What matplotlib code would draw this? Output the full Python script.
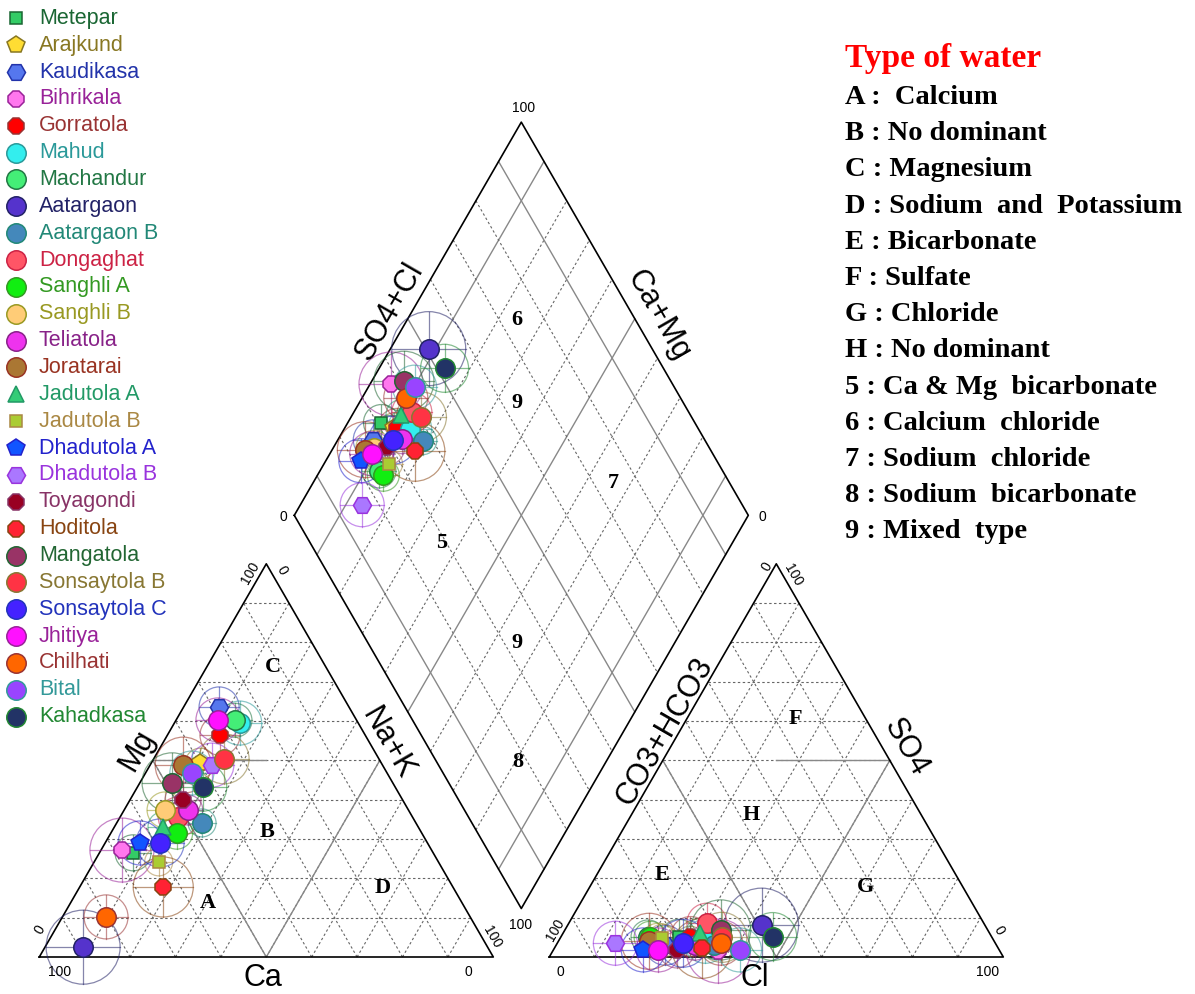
import numpy as np
import matplotlib.pyplot as plt
from matplotlib.patches import Circle

# Piper diagram of groundwater samples (% meq/L)
sites = ["Metepar", "Arajkund", "Kaudikasa", "Bihrikala", "Gorratola", "Mahud",
         "Machandur", "Aatargaon", "Aatargaon B", "Dongaghat", "Sanghli A",
         "Sanghli B", "Teliatola", "Joratarai", "Jadutola A", "Jadutola B",
         "Dhadutola A", "Dhadutola B", "Toyagondi", "Hoditola", "Mangatola",
         "Sonsaytola B", "Sonsaytola C", "Jhitiya", "Chilhati", "Bital", "Kahadkasa"]

ca = [66.1, 39.9, 28.6, 68.2, 32.0, 26.1, 26.8, 89.1, 47.1, 51.6, 54.0, 53.6, 48.6, 43.9,
      56.2, 61.6, 63.3, 37.6, 48.4, 63.8, 48.6, 34.1, 58.9, 30.5, 80.2, 43.0, 42.4]
mg = [26.5, 49.3, 63.6, 27.2, 56.4, 59.5, 60.2, 2.5, 34.1, 35.6, 31.5, 37.4, 37.4, 48.8,
      33.1, 24.2, 29.0, 48.8, 39.9, 17.8, 44.3, 50.4, 29.0, 60.3, 10.2, 46.8, 43.2]
nak = [7.4, 10.8, 7.8, 4.6, 11.6, 14.4, 13.0, 8.4, 18.8, 12.8, 14.5, 9.0, 14.0, 7.3,
       10.7, 14.2, 7.7, 13.6, 11.7, 18.4, 7.1, 15.5, 12.1, 9.2, 9.6, 10.2, 14.4]

hco3 = [69.0, 67.0, 73.0, 62.0, 66.3, 63.6, 75.7, 49.2, 62.2, 61.0, 75.3, 74.0, 66.5, 76.0,
        63.7, 72.7, 78.4, 83.7, 71.0, 65.3, 58.8, 59.5, 68.8, 75.1, 60.5, 57.2, 48.2]
so4 = [5.0, 4.0, 3.0, 1.5, 5.2, 4.0, 5.1, 8.1, 3.0, 8.6, 5.0, 4.0, 3.0, 4.0,
       6.0, 4.8, 1.8, 3.5, 1.8, 2.2, 6.9, 5.0, 3.5, 1.8, 3.5, 1.8, 5.2]
cl = [26.0, 29.0, 24.0, 36.5, 28.5, 32.4, 19.2, 42.7, 34.8, 30.4, 19.7, 22.0, 30.5, 20.0,
      30.3, 22.5, 19.8, 12.8, 27.2, 32.5, 34.3, 35.5, 27.7, 23.1, 36.0, 41.0, 46.6]

# symbol styles
markers = ['s', 'p', 'H', '8', '8', 'o', 'o', 'o', 'o', 'o', 'o', 'o', 'o', 'o',
           '^', 's', 'p', 'H', '8', '8', 'o', 'o', 'o', 'o', 'o', 'o', 'o']
fills = ['#33cc66', '#ffdd33', '#5577ee', '#ff77ee', '#ff0000', '#33eeee', '#44ee77',
         '#5533cc', '#4488bb', '#ff5566', '#11ee11', '#ffcc77', '#ee33ee', '#aa7733',
         '#33cc77', '#aacc33', '#1155ff', '#aa77ff', '#990022', '#ff2233', '#993366',
         '#ff3344', '#4422ff', '#ff11ff', '#ff6600', '#9944ff', '#223366']
edges = ['#1a6633', '#887722', '#2233aa', '#992299', '#993333', '#2a9999', '#227744',
         '#222266', '#228877', '#cc2244', '#339922', '#999922', '#882288', '#993322',
         '#229966', '#aa8844', '#2222cc', '#9933dd', '#883366', '#884411', '#226633',
         '#887733', '#2233bb', '#992299', '#993333', '#339999', '#228833']
ring_px = [18, 15, 20, 32, 20, 22, 17, 37, 14, 20, 16, 18, 15, 28,
           15, 14, 22, 22, 18, 30, 30, 25, 24, 22, 22, 22, 24]

# layout: pixel -> data units (triangle side = 1)
X0, Y0, S = 39.3, 957.0, 454.0
H = np.sqrt(3) / 2
GAP = 56.0 / S


def P(x, y):
    return (x - X0) / S, (Y0 - y) / S


fig = plt.figure(figsize=(11.95, 9.94), dpi=100)
ax = fig.add_axes([0, 0, 1, 1])
ax.set_xlim(-X0 / S, (1195 - X0) / S)
ax.set_ylim((Y0 - 994) / S, Y0 / S)
ax.axis('off')

SANS = 'Liberation Sans'
SERIF = 'Liberation Serif'
grid_kw = dict(color='#666666', lw=0.8, ls=(0, (2.2, 2.2)), zorder=1)
solid_kw = dict(color='#888888', lw=1.0, zorder=1)


def tri(right, top, ox=0.0):
    return ox + right + 0.5 * top, top * H


def draw_triangle(ox):
    for i in range(1, 10):
        f = i / 10
        ax.plot([ox + 0.5 * f, ox + 1 - 0.5 * f], [f * H, f * H], **grid_kw)
        ax.plot([ox + f, ox + f + 0.5 * (1 - f)], [0, (1 - f) * H], **grid_kw)
        ax.plot([ox + 1 - f, ox + 0.5 * (1 - f)], [0, (1 - f) * H], **grid_kw)
    ax.plot([ox, ox + 1, ox + 0.5, ox], [0, 0, H, 0], color='black', lw=1.2, zorder=2)


draw_triangle(0.0)
draw_triangle(1 + GAP)

# subdivision lines
ax.plot([0.25, 0.5, 0.75], [0.5 * H, 0, 0.5 * H], **solid_kw)
ax.plot([0.25, 0.5], [0.5 * H, 0.5 * H], **solid_kw)
ox = 1 + GAP
ax.plot([ox + 0.25, ox + 0.5, ox + 0.75], [0.5 * H, 0, 0.5 * H], **solid_kw)
ax.plot([ox + 0.5, ox + 0.75], [0.5 * H, 0.5 * H], **solid_kw)

# diamond
Bx, By = 1 + GAP / 2, GAP * H
Lx, Ly = Bx - 0.5, By + H


def dia(n, s):
    return Lx + 0.5 * (n + s), Ly + H * (s - n)


for i in range(1, 10):
    f = i / 10
    kw = solid_kw if i in (1, 5, 9) else grid_kw
    a, b = dia(0, f), dia(1, f)
    ax.plot([a[0], b[0]], [a[1], b[1]], **kw)
    a, b = dia(f, 0), dia(f, 1)
    ax.plot([a[0], b[0]], [a[1], b[1]], **kw)
corners = [dia(0, 0), dia(1, 0), dia(1, 1), dia(0, 1), dia(0, 0)]
ax.plot([c[0] for c in corners], [c[1] for c in corners], color='black', lw=1.2, zorder=2)

# sample positions
tot_c = np.array(ca) + np.array(mg) + np.array(nak)
tot_a = np.array(hco3) + np.array(so4) + np.array(cl)
f_mg, f_na = np.array(mg) / tot_c, np.array(nak) / tot_c
f_so4, f_cl = np.array(so4) / tot_a, np.array(cl) / tot_a

sizes = {'o': 14, 's': 9, '^': 11, 'p': 13, 'H': 13, '8': 13}


def ring(x, y, r, c):
    ax.add_patch(Circle((x, y), r, fill=False, ec=c, lw=0.9, alpha=0.55, zorder=3))
    ax.plot([x - r, x + r], [y, y], color=c, lw=0.9, alpha=0.55, zorder=3)
    ax.plot([x, x], [y - r, y + r], color=c, lw=0.9, alpha=0.55, zorder=3)


pts = []
for k in range(len(sites)):
    c1 = tri(f_na[k], f_mg[k])
    a1 = tri(f_cl[k], f_so4[k], 1 + GAP)
    d1 = dia(f_na[k], f_so4[k] + f_cl[k])
    pts.append((c1, a1, d1))
    for (x, y) in (c1, a1, d1):
        ring(x, y, ring_px[k] / S, edges[k])

for k in range(len(sites)):
    for (x, y) in pts[k]:
        ax.plot(x, y, marker=markers[k], ms=sizes[markers[k]], mfc=fills[k],
                mec=edges[k], mew=1.1, ls='none', zorder=4)

# legend
for k, name in enumerate(sites):
    yy = 18.3 + k * 26.86
    mx, my = P(16.5, yy)
    ax.plot(mx, my, marker=markers[k], ms=sizes[markers[k]], mfc=fills[k],
            mec=edges[k], mew=1.1, ls='none', clip_on=False)
    tx, ty = P(39, yy)
    ax.text(tx, ty, name, color=edges[k], fontsize=15.5, family=SANS, va='center', ha='left')

# axis titles
for txt, (x, y), rot in [("Ca", (263, 978), 0), ("Cl", (755, 978), 0),
                         ("Mg", (137, 750), 60), ("Na+K", (388, 743), -60),
                         ("SO4+Cl", (390, 311), 60), ("Ca+Mg", (658, 315), -60),
                         ("CO3+HCO3", (665, 731), 60), ("SO4", (906, 747), -60)]:
    ax.text(*P(x, y), txt, fontsize=22, family=SANS, rotation=rot,
            ha='center', va='center', rotation_mode='anchor')

# scale labels
for txt, (x, y), rot in [("100", (250, 573), 60), ("0", (282, 570), -60),
                         ("0", (40, 930), 60), ("100", (60, 972), 0),
                         ("0", (468, 972), 0), ("100", (492, 937), -60),
                         ("0", (560, 972), 0), ("100", (988, 972), 0),
                         ("100", (555, 930), 60), ("0", (999, 930), -60),
                         ("0", (767, 567), 60), ("100", (793, 575), -60),
                         ("100", (524, 108), 0), ("0", (283, 517), 0),
                         ("0", (762, 517), 0), ("100", (521, 925), 0)]:
    ax.text(*P(x, y), txt, fontsize=10, family=SANS, rotation=rot,
            ha='center', va='center', rotation_mode='anchor')

# field labels
for txt, (x, y) in [("C", (273, 667)), ("B", (267, 832)), ("A", (208, 903)), ("D", (383, 888)),
                    ("F", (795, 719)), ("H", (751, 815)), ("E", (662, 875)), ("G", (865, 887)),
                    ("6", (517, 320)), ("9", (517, 403)), ("7", (613, 483)),
                    ("5", (442, 543)), ("9", (517, 643)), ("8", (518, 762))]:
    ax.text(*P(x, y), txt, fontsize=16, family=SERIF, weight='bold',
            ha='center', va='center')

# water type key
ax.text(*P(845, 67), "Type of water", color='red', fontsize=24, family=SERIF,
        weight='bold', ha='left', va='baseline')
key = ["A :  Calcium", "B : No dominant", "C : Magnesium", "D : Sodium  and  Potassium",
       "E : Bicarbonate", "F : Sulfate", "G : Chloride", "H : No dominant",
       "5 : Ca & Mg  bicarbonate", "6 : Calcium  chloride", "7 : Sodium  chloride",
       "8 : Sodium  bicarbonate", "9 : Mixed  type"]
for i, line in enumerate(key):
    ax.text(*P(845, 104 + 36.2 * i), line, fontsize=20.5, family=SERIF, weight='bold',
            ha='left', va='baseline')

fig.savefig("out.png", dpi=100)
